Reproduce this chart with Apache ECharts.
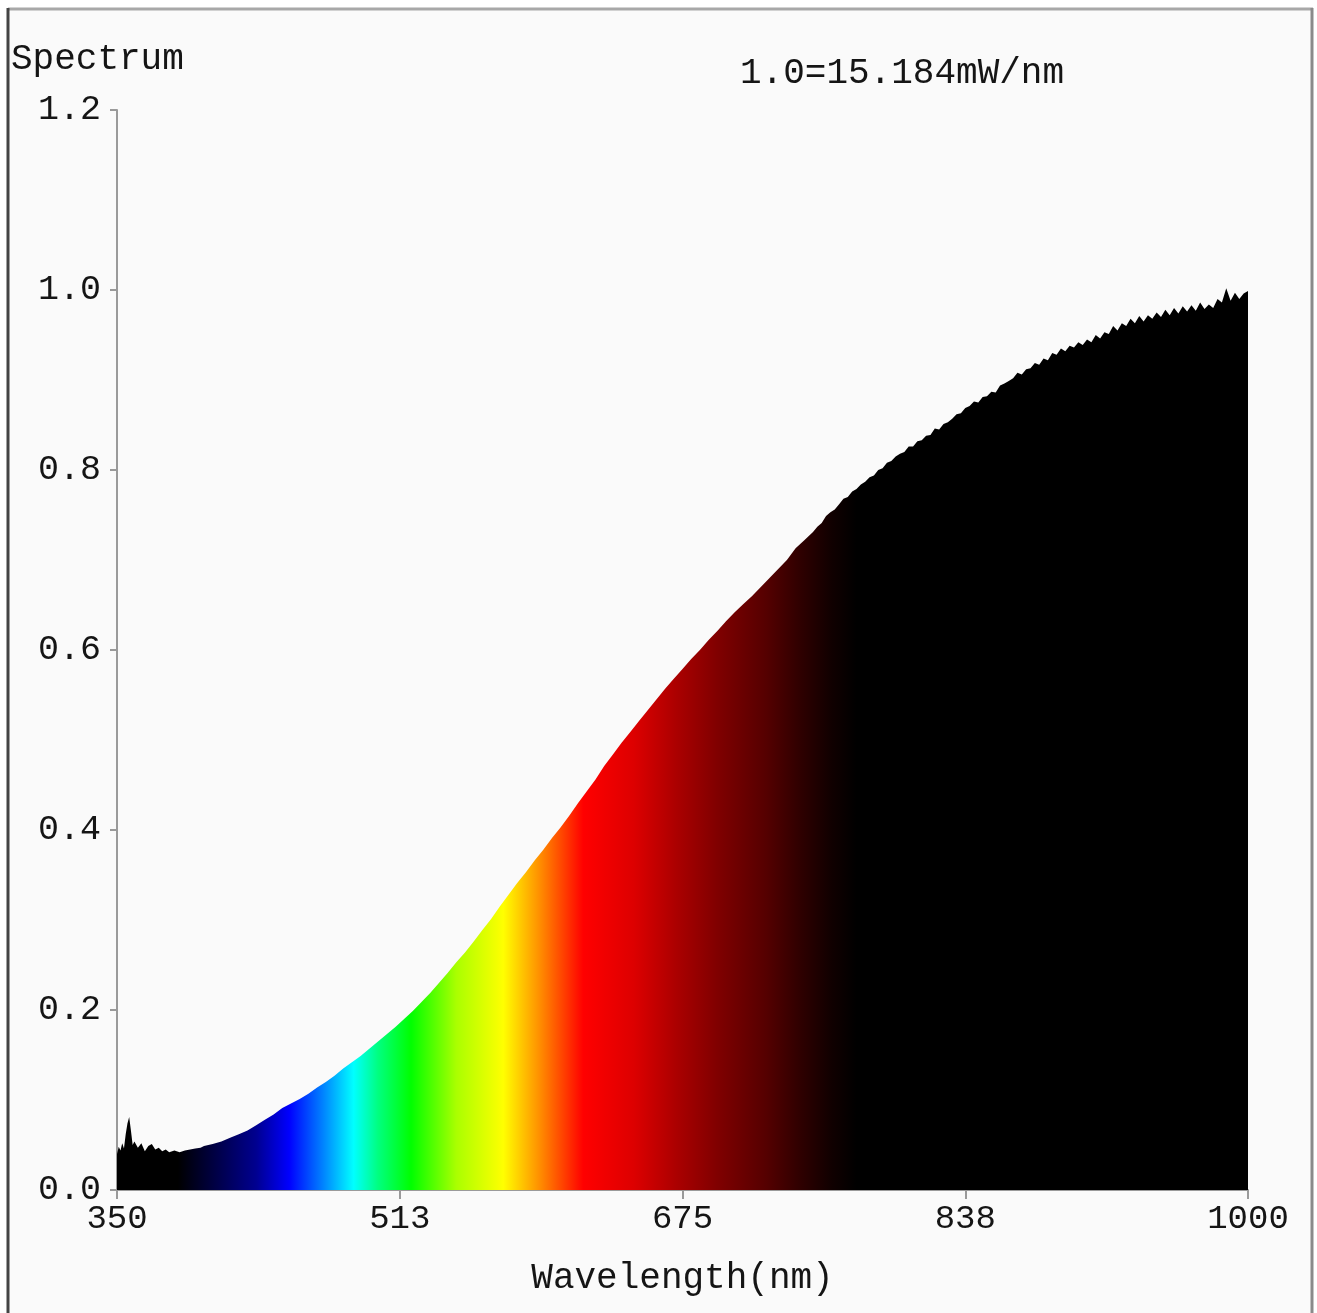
<!DOCTYPE html>
<html>
<head>
<meta charset="utf-8">
<script src="https://cdn.jsdelivr.net/npm/echarts@6/dist/echarts.min.js"></script>
<style>
  html, body { margin: 0; padding: 0; background: #ffffff; }
  #chart { width: 1317px; height: 1313px; }
</style>
</head>
<body>
<div id="chart"></div>
<script>
// ---- data ----
const wavelengths = [
  350,351,352,353,354,355,356,357,358,359,360,362,364,366,368,370,372,374,376,378,380,383,386,389,392,395,398,400,
  405,410,415,420,425,430,435,440,445,450,455,460,465,470,475,480,485,490,495,500,
  505,510,515,520,525,530,535,540,545,550,555,560,565,570,575,580,585,590,595,600,
  605,610,615,620,625,630,635,640,645,650,655,660,665,670,675,680,685,690,695,700,
  705,710,715,720,725,730,735,740,745,
  750,752.5,755,757.5,760,762.5,765,767.5,770,772.5,775,777.5,780,782.5,785,787.5,790,792.5,795,797.5,
  800,802.5,805,807.5,810,812.5,815,817.5,820,822.5,825,827.5,830,832.5,835,837.5,840,842.5,845,847.5,
  850,852.5,855,857.5,860,862.5,865,867.5,870,872.5,875,877.5,880,882.5,885,887.5,890,892.5,895,897.5,
  900,902.5,905,907.5,910,912.5,915,917.5,920,922.5,925,927.5,930,932.5,935,937.5,940,942.5,945,947.5,
  950,952.5,955,957.5,960,962.5,965,967.5,970,972.5,975,977.5,980,982.5,985,987.5,990,992.5,995,997.5,1000
];
const intensity = [
  0.040,0.048,0.044,0.052,0.046,0.062,0.074,0.081,0.066,0.050,0.054,0.047,0.052,0.043,0.049,0.051,0.045,0.047,0.043,0.045,0.042,0.044,0.042,0.044,0.045,0.046,0.047,0.049,
  0.051,0.054,0.058,0.062,0.066,0.072,0.078,0.084,0.091,0.096,0.101,0.107,0.114,0.120,0.127,0.135,0.142,0.149,0.157,0.165,
  0.173,0.181,0.190,0.199,0.209,0.219,0.230,0.241,0.253,0.264,0.276,0.289,0.301,0.315,0.328,0.341,0.353,0.366,0.378,0.391,
  0.403,0.416,0.430,0.443,0.456,0.471,0.484,0.497,0.509,0.521,0.533,0.545,0.557,0.568,0.579,0.590,0.600,0.611,0.621,0.632,
  0.642,0.651,0.660,0.670,0.680,0.690,0.700,0.713,0.722,
  0.731,0.737,0.741,0.749,0.753,0.756,0.762,0.768,0.770,0.776,0.779,0.784,0.787,0.792,0.794,0.800,0.802,0.808,0.810,0.815,
  0.818,0.820,0.826,0.826,0.832,0.833,0.838,0.839,0.846,0.845,0.851,0.853,0.857,0.862,0.863,0.869,0.871,0.876,0.875,0.881,
  0.882,0.887,0.886,0.894,0.896,0.899,0.902,0.908,0.906,0.912,0.913,0.919,0.917,0.924,0.922,0.930,0.928,0.935,0.932,0.938,
  0.936,0.942,0.939,0.945,0.942,0.950,0.946,0.953,0.951,0.960,0.955,0.963,0.960,0.968,0.963,0.971,0.965,0.972,0.968,0.975,
  0.970,0.978,0.972,0.980,0.974,0.982,0.976,0.983,0.977,0.986,0.979,0.984,0.980,0.990,0.986,1.002,0.988,0.997,0.990,0.996,0.999
];
const xTickValues = [350, 512.5, 675, 837.5, 1000];
const xTickLabels = ['350', '513', '675', '838', '1000'];
const yMin = 0, yMax = 1.2, yStep = 0.2;
const yAxisTitle = 'Spectrum';
const xAxisTitle = 'Wavelength(nm)';
const scaleNote = '1.0=15.184mW/nm';

// ---- spectral colour ramp (wavelength -> colour) ----
const spectrumStops = [
  [350, '#000000'], [385, '#000000'], [405, '#000040'], [430, '#000090'],
  [449, '#0000ff'], [468, '#0080ff'], [486, '#00ffff'], [500, '#00ff80'],
  [519, '#00ff00'], [545, '#aaff00'], [572, '#ffff00'], [591, '#ff9900'],
  [618, '#ff0000'], [647, '#dd0000'], [672, '#aa0000'], [695, '#800000'],
  [723, '#550000'], [742, '#300000'], [761, '#100000'], [775, '#000000'],
  [1000, '#000000']
];

const xMin = wavelengths[0], xMax = wavelengths[wavelengths.length - 1];
const seriesData = wavelengths.map((w, i) => [w, intensity[i]]);
const gradStops = spectrumStops.map(s => ({ offset: (s[0] - xMin) / (xMax - xMin), color: s[1] }));

const FONT = 'Liberation Mono';
const TXT = '#151515';
const chart = echarts.init(document.getElementById('chart'), null, { renderer: 'canvas' });

chart.setOption({
  backgroundColor: '#ffffff',
  animation: false,
  graphic: [
    { type: 'rect', z: -10, silent: true, shape: { x: 8, y: 8, width: 1304, height: 1320 },
      style: { fill: '#fafafa', stroke: null } },
    { type: 'line', z: -5, silent: true, shape: { x1: 8, y1: 9, x2: 1313, y2: 9 },
      style: { stroke: '#a8a8a8', lineWidth: 3 } },
    { type: 'line', z: -5, silent: true, shape: { x1: 8, y1: 8, x2: 8, y2: 1313 },
      style: { stroke: '#444444', lineWidth: 3 } },
    { type: 'line', z: -5, silent: true, shape: { x1: 1312, y1: 8, x2: 1312, y2: 1313 },
      style: { stroke: '#8a8a8a', lineWidth: 3 } }
  ],
  title: [
    { text: yAxisTitle, left: 6, top: 36,
      textStyle: { fontFamily: FONT, fontSize: 36, fontWeight: 'normal', color: TXT } },
    { text: scaleNote, left: 735, top: 50,
      textStyle: { fontFamily: FONT, fontSize: 36, fontWeight: 'normal', color: TXT } }
  ],
  grid: { left: 117, right: 69, top: 110, bottom: 123, containLabel: false, outerBoundsMode: 'none' },
  xAxis: {
    type: 'value',
    min: xMin, max: xMax,
    name: xAxisTitle,
    nameLocation: 'middle',
    nameGap: 70,
    nameTextStyle: { fontFamily: FONT, fontSize: 36, color: TXT },
    axisLine: { show: true, onZero: false, lineStyle: { color: '#9a9a9a', width: 2 } },
    axisTick: { show: true, length: 9, customValues: xTickValues, lineStyle: { color: '#9a9a9a', width: 2 } },
    axisLabel: {
      customValues: xTickValues, margin: 12,
      fontFamily: FONT, fontSize: 34, color: TXT,
      formatter: v => { const i = xTickValues.indexOf(v); return i >= 0 ? xTickLabels[i] : ''; }
    },
    splitLine: { show: false }
  },
  yAxis: {
    type: 'value',
    min: yMin, max: yMax, interval: yStep,
    axisLine: { show: true, lineStyle: { color: '#9a9a9a', width: 2 } },
    axisTick: { show: true, length: 7, lineStyle: { color: '#9a9a9a', width: 2 } },
    axisLabel: {
      margin: 16, fontFamily: FONT, fontSize: 35, color: TXT,
      formatter: v => v.toFixed(1)
    },
    splitLine: { show: false }
  },
  series: [{
    type: 'line',
    data: seriesData,
    showSymbol: false,
    smooth: false,
    lineStyle: { width: 0 },
    areaStyle: {
      opacity: 1,
      origin: 'start',
      color: new echarts.graphic.LinearGradient(0, 0, 1, 0, gradStops)
    },
    z: 1
  }]
});
</script>
</body>
</html>
